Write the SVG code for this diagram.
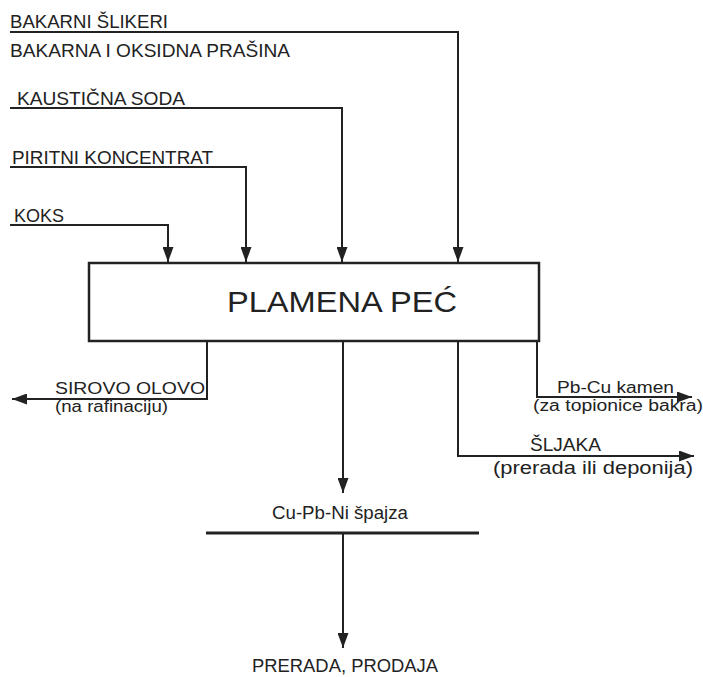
<svg xmlns="http://www.w3.org/2000/svg" width="703" height="677" viewBox="0 0 703 677">
<style>
.t{font-family:"Liberation Sans",Arial,sans-serif;font-size:17.5px;fill:#222}
.s{font-size:16px}
.big{font-size:30px}
.arr{fill:none;stroke:#222;stroke-width:2;marker-end:url(#ah)}
</style>
<defs>
<marker id="ah" markerUnits="userSpaceOnUse" markerWidth="16" markerHeight="11" refX="15" refY="5.5" orient="auto">
<path d="M0,0 L15,5.5 L0,11 z" fill="#222"/>
</marker>
</defs>
<rect width="703" height="677" fill="#fff"/>
<g id="connectors">
<path class="arr" d="M10 32 H458 V262"/>
<path class="arr" d="M10 108 H342 V262"/>
<path class="arr" d="M10 167 H246 V262"/>
<path class="arr" d="M10 225 H168 V262"/>
<path class="arr" d="M207 341 V399 H12"/>
<path class="arr" d="M343 341 V493"/>
<path class="arr" d="M343 533 V648"/>
<path class="arr" d="M458 341 V456 H694"/>
<path class="arr" d="M537 341 V397 H692"/>
</g>
<g id="in-sliker"><text class="t" x="10" y="28" textLength="158" lengthAdjust="spacingAndGlyphs">BAKARNI ŠLIKERI</text></g>
<g id="in-prasina"><text class="t" x="10" y="57" textLength="280" lengthAdjust="spacingAndGlyphs">BAKARNA I OKSIDNA PRAŠINA</text></g>
<g id="in-soda"><text class="t" x="17" y="105" textLength="168" lengthAdjust="spacingAndGlyphs">KAUSTIČNA SODA</text></g>
<g id="in-pirit"><text class="t" x="12" y="164" textLength="201" lengthAdjust="spacingAndGlyphs">PIRITNI KONCENTRAT</text></g>
<g id="in-koks"><text class="t" x="14" y="222" textLength="50" lengthAdjust="spacingAndGlyphs">KOKS</text></g>
<g id="pec">
<rect x="89" y="263" width="450" height="78" fill="#fff" stroke="#222" stroke-width="2.5"/>
<text class="t big" x="227" y="312" textLength="230" lengthAdjust="spacingAndGlyphs">PLAMENA PEĆ</text>
</g>
<g id="out-olovo">
<text class="t s" x="55" y="394" textLength="150" lengthAdjust="spacingAndGlyphs">SIROVO OLOVO</text>
<text class="t s" x="55" y="412" textLength="113" lengthAdjust="spacingAndGlyphs">(na rafinaciju)</text>
</g>
<g id="out-kamen">
<text class="t s" x="557" y="393" textLength="117" lengthAdjust="spacingAndGlyphs">Pb-Cu kamen</text>
<text class="t s" x="533" y="411" textLength="170" lengthAdjust="spacingAndGlyphs">(za topionice bakra)</text>
</g>
<g id="out-sljaka">
<text class="t" x="530" y="451" textLength="71" lengthAdjust="spacingAndGlyphs">ŠLJAKA</text>
<text class="t" x="493" y="474" textLength="200" lengthAdjust="spacingAndGlyphs">(prerada ili deponija)</text>
</g>
<g id="spajza">
<text class="t" x="272" y="519" textLength="136" lengthAdjust="spacingAndGlyphs">Cu-Pb-Ni špajza</text>
<path d="M206 533 H479" stroke="#222" stroke-width="3" fill="none"/>
</g>
<g id="prodaja"><text class="t" x="252" y="672" textLength="186" lengthAdjust="spacingAndGlyphs">PRERADA, PRODAJA</text></g>
</svg>
